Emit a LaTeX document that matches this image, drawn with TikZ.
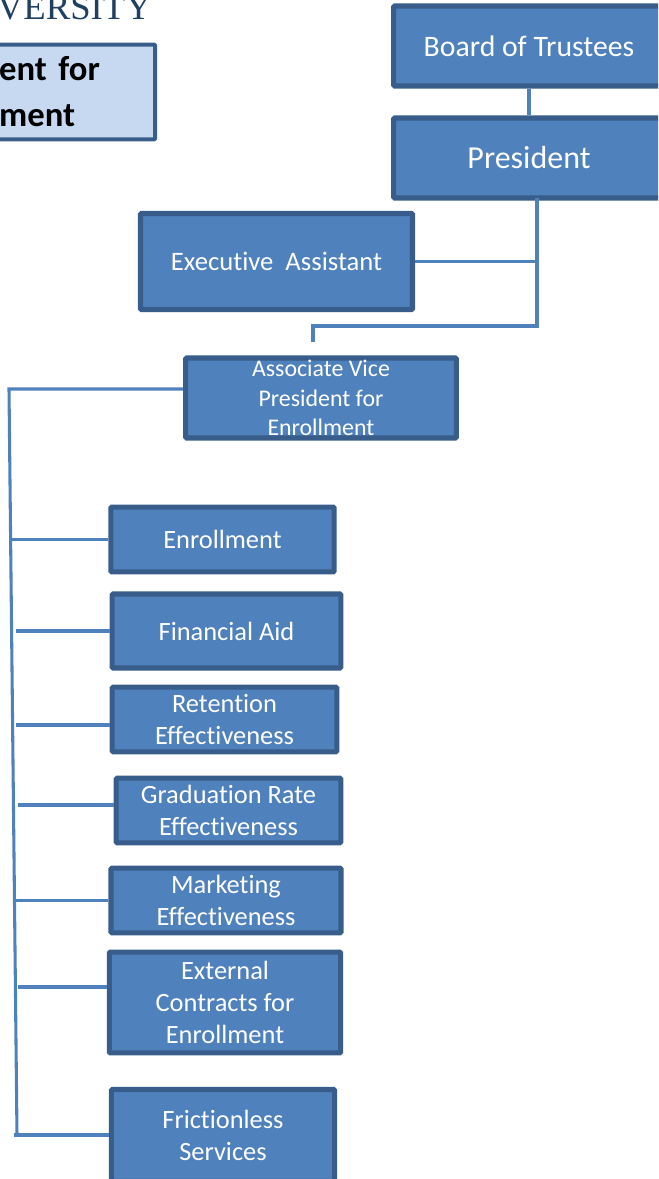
\documentclass[tikz,border=0pt]{standalone}
\usepackage{fontspec}
\setmainfont{Carlito}[Ligatures=NoCommon]
\newfontfamily\logofont{Liberation Serif}
\definecolor{boxfill}{HTML}{4F81BD}
\definecolor{boxline}{HTML}{385D8A}
\definecolor{titlefill}{HTML}{C6D9F1}
\definecolor{logoblue}{HTML}{1F3F63}
\tikzset{
  orgbox/.style={draw=boxline, fill=boxfill, line width=3.8pt, rounded corners=0.8pt,
    text=white, align=center, inner sep=0pt, font=\fontsize{19.8}{24}\selectfont},
  titlebox/.style={draw=boxline, fill=titlefill, line width=3pt, rounded corners=0.8pt,
    align=left, inner sep=0pt, font=\bfseries\fontsize{26}{34.5}\selectfont},
  link/.style={draw=boxfill, line width=2.3pt},
}
\begin{document}
\begin{tikzpicture}[x=0.75pt,y=-0.75pt]
   \useasboundingbox (0,0) rectangle (658,1179);
   \clip (0,0) rectangle (658,1179);
   % letterhead, cut off by the page
   \node[anchor=base east, inner sep=0pt, text=logoblue, font=\logofont\fontsize{27.5}{27.5}\selectfont] (logo) at (152,19) {VERSITY};
   \node[titlebox, minimum width=118pt, minimum height=71pt, text width=116pt] (title) at (76.5,92) {ent for\\ment};
   % top of the chart
   \node[orgbox, minimum width=203pt, minimum height=60pt, font=\fontsize{22.3}{26}\selectfont] (trustees) at (529,46) {Board of Trustees};
   \node[orgbox, minimum width=203pt, minimum height=60pt, font=\fontsize{24}{28}\selectfont] (president) at (529,158) {President};
   \node[orgbox, minimum width=204pt, minimum height=72pt, font=\fontsize{20}{24}\selectfont] (assistant) at (276.5,261.5) {Executive\ \ Assistant};
   \node[orgbox, minimum width=203pt, minimum height=60pt, font=\fontsize{17.9}{22}\selectfont] (avp) at (321,398) {Associate Vice\\President for\\Enrollment};
   % the offices
   \node[orgbox, minimum width=167.5pt, minimum height=48.5pt] (enrollment) at (222.5,539.5) {Enrollment};
   \node[orgbox, minimum width=171.5pt, minimum height=55.5pt] (finaid) at (226.5,631) {Financial Aid};
   \node[orgbox, minimum width=168.5pt, minimum height=48.5pt] (retention) at (224.5,719.5) {Retention\\Effectiveness};
   \node[orgbox, minimum width=168.5pt, minimum height=48.5pt] (gradrate) at (228.5,810.5) {Graduation Rate\\Effectiveness};
   \node[orgbox, minimum width=172.5pt, minimum height=48.5pt] (marketing) at (226,900.5) {Marketing\\Effectiveness};
   \node[orgbox, minimum width=173.5pt, minimum height=75.5pt] (contracts) at (225,1002.5) {External\\Contracts for\\Enrollment};
   \node[orgbox, minimum width=167.5pt, minimum height=69pt] (frictionless) at (223,1135.5) {Frictionless\\Services};
   % free ends of the connectors
   \coordinate (pres-foot) at (537,198);
   \coordinate (pres-elbow) at (537,326);
   \coordinate (avp-elbow) at (313,326);
   \coordinate (avp-stub) at (313,342);
   \coordinate (trunk-top) at (9,389);
   \coordinate (trunk-end) at (17,1135);
   \draw[link] (trustees.south) -- (president.north);
   \draw[link] (pres-foot) -- (pres-elbow) -- (avp-elbow) -- (avp-stub);
   \draw[link] (assistant.east) -- (assistant.east -| pres-foot);
   \draw[link] (avp.west |- trunk-top) -- (trunk-top) -- (trunk-end);
   \draw[link] (enrollment.west) -- +(-97,0);
   \draw[link] (finaid.west) -- +(-94,0);
   \draw[link] (retention.west |- 0,725) -- +(-94,0);
   \draw[link] (gradrate.west |- 0,805) -- +(-96,0);
   \draw[link] (marketing.west) -- +(-93,0);
   \draw[link] (contracts.west |- 0,987) -- +(-89,0);
   \draw[link] (frictionless.west |- trunk-end) -- +(-95,0);
\end{tikzpicture}
\end{document}
